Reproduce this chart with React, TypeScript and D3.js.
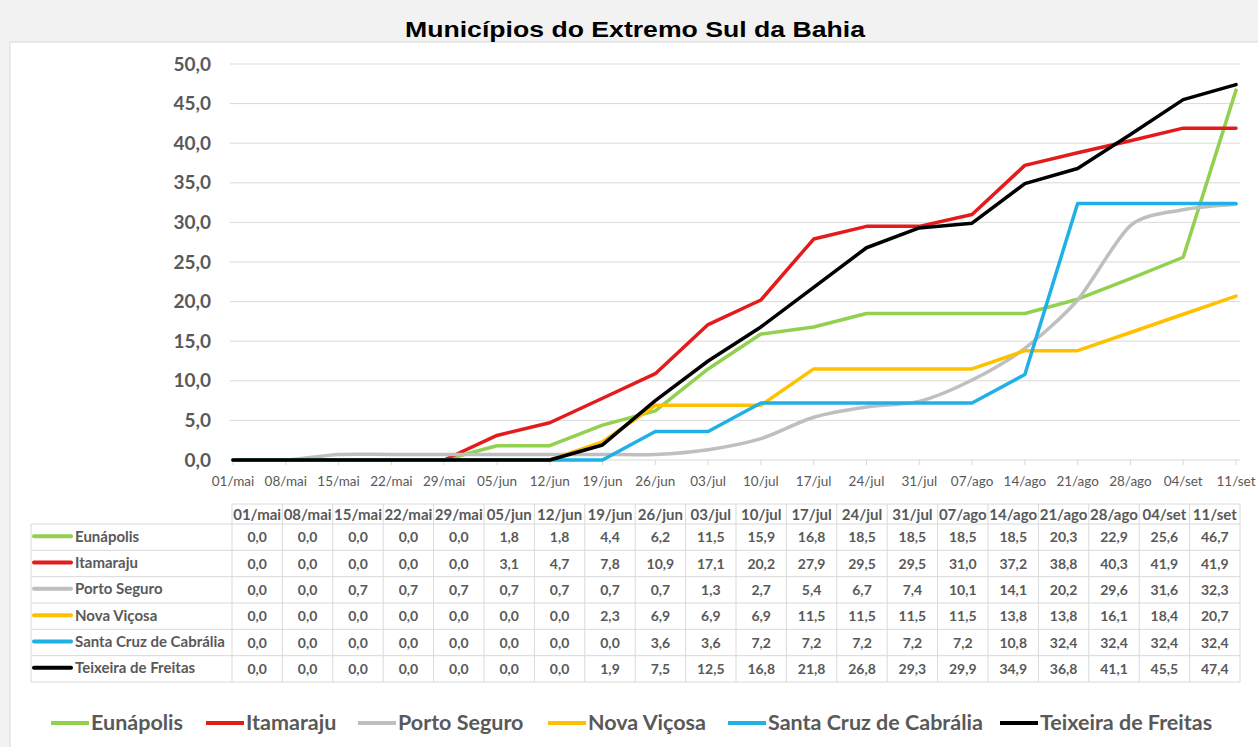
import React from 'react';
import * as d3 from 'd3';

const categories = ['01/mai', '08/mai', '15/mai', '22/mai', '29/mai', '05/jun', '12/jun', '19/jun', '26/jun', '03/jul', '10/jul', '17/jul', '24/jul', '31/jul', '07/ago', '14/ago', '21/ago', '28/ago', '04/set', '11/set'];

const seriesNames = ['Eunápolis', 'Itamaraju', 'Porto Seguro', 'Nova Viçosa', 'Santa Cruz de Cabrália', 'Teixeira de Freitas'];

const eunapolis = [0, 0, 0, 0, 0, 1.8, 1.8, 4.4, 6.2, 11.5, 15.9, 16.8, 18.5, 18.5, 18.5, 18.5, 20.3, 22.9, 25.6, 46.7];
const itamaraju = [0, 0, 0, 0, 0, 3.1, 4.7, 7.8, 10.9, 17.1, 20.2, 27.9, 29.5, 29.5, 31.0, 37.2, 38.8, 40.3, 41.9, 41.9];
const portoSeguro = [0, 0, 0.7, 0.7, 0.7, 0.7, 0.7, 0.7, 0.7, 1.3, 2.7, 5.4, 6.7, 7.4, 10.1, 14.1, 20.2, 29.6, 31.6, 32.3];
const novaVicosa = [0, 0, 0, 0, 0, 0, 0, 2.3, 6.9, 6.9, 6.9, 11.5, 11.5, 11.5, 11.5, 13.8, 13.8, 16.1, 18.4, 20.7];
const santaCruz = [0, 0, 0, 0, 0, 0, 0, 0, 3.6, 3.6, 7.2, 7.2, 7.2, 7.2, 7.2, 10.8, 32.4, 32.4, 32.4, 32.4];
const teixeira = [0, 0, 0, 0, 0, 0, 0, 1.9, 7.5, 12.5, 16.8, 21.8, 26.8, 29.3, 29.9, 34.9, 36.8, 41.1, 45.5, 47.4];

const seriesValues = [eunapolis, itamaraju, portoSeguro, novaVicosa, santaCruz, teixeira];
const seriesColors = ['#92d050', '#e31b1b', '#bfbfbf', '#ffc000', '#1fb0e6', '#000000'];
const smoothed = [false, false, true, false, false, false];

const yTicks = [0, 5, 10, 15, 20, 25, 30, 35, 40, 45, 50];

const legendX = [51, 206, 358, 548, 728, 1000];

const fmt = (v: number) => d3.format('.1f')(v).replace('.', ',');

export default function App() {
  const W = 1258;
  const H = 747;
  const x = d3.scalePoint<string>().domain(categories).range([233, 1236]);
  const y = d3.scaleLinear().domain([0, 50]).range([460, 64]);
  const col = d3.scaleBand<string>().domain(categories).range([232, 1240]);
  const gridColor = '#d9d9d9';
  const textColor = '#595959';
  const calibri = 'Lato, "Open Sans", sans-serif';

  const tableTop = 504;
  const headerBottom = 524;
  const rowH = (682 - 524) / 6;
  const tableLeft = 31;
  const labelRight = 232;
  const tableRight = 1240;

  return (
    <div style={{ position: 'absolute', left: 0, top: 0 }}>
      <svg width={W} height={H} style={{ display: 'block' }}>
        <rect x={0} y={0} width={W} height={H} fill="#f2f2f2" />
        <rect x={10} y={42} width={W - 9} height={H - 41} fill="#ffffff" stroke="#d9d9d9" strokeWidth={1} />
        <text x={635} y={37} textAnchor="middle" fontFamily='"Liberation Sans", Arial, sans-serif' fontWeight="bold" fontSize={22} fill="#000" textLength={460} lengthAdjust="spacingAndGlyphs">
          Municípios do Extremo Sul da Bahia
        </text>

        {/* gridlines */}
        {yTicks.map((t) => (
          <line key={'g' + t} x1={230} x2={1240} y1={y(t)} y2={y(t)} stroke={gridColor} strokeWidth={1} />
        ))}
        {yTicks.map((t) => (
          <text key={'yl' + t} x={211} y={y(t) + 6.5} textAnchor="end" fontFamily={calibri} fontWeight="bold" fontSize={19} fill={textColor}>
            {fmt(t)}
          </text>
        ))}
        {/* x ticks */}
        {categories.map((c) => (
          <line key={'xt' + c} x1={x(c)} x2={x(c)} y1={460} y2={465} stroke={gridColor} strokeWidth={1} />
        ))}
        {categories.map((c) => (
          <text key={'xl' + c} x={x(c)} y={486} textAnchor="middle" fontFamily={calibri} fontSize={13.5} fill={textColor}>
            {c}
          </text>
        ))}

        {/* lines */}
        {seriesValues.map((vals, i) => {
          const gen = d3
            .line<number>()
            .x((_, j) => x(categories[j]) as number)
            .y((v) => y(v))
            .curve(smoothed[i] ? d3.curveCardinal.tension(0.2) : d3.curveLinear);
          return (
            <path key={'s' + i} d={gen(vals) || ''} fill="none" stroke={seriesColors[i]} strokeWidth={3.5} strokeLinejoin="round" strokeLinecap="round" />
          );
        })}

        {/* data table */}
        <g>
          <line x1={labelRight} x2={tableRight} y1={tableTop} y2={tableTop} stroke={gridColor} />
          {d3.range(7).map((r) => (
            <line key={'hr' + r} x1={tableLeft} x2={tableRight} y1={headerBottom + r * rowH} y2={headerBottom + r * rowH} stroke={gridColor} />
          ))}
          <line x1={tableLeft} x2={tableLeft} y1={headerBottom} y2={headerBottom + 6 * rowH} stroke={gridColor} />
          {categories.map((c) => (
            <line key={'vl' + c} x1={col(c)} x2={col(c)} y1={tableTop} y2={headerBottom + 6 * rowH} stroke={gridColor} />
          ))}
          <line x1={tableRight} x2={tableRight} y1={tableTop} y2={headerBottom + 6 * rowH} stroke={gridColor} />
          {categories.map((c) => (
            <text key={'th' + c} x={(col(c) as number) + col.bandwidth() / 2} y={519.5} textAnchor="middle" fontFamily={calibri} fontWeight="bold" fontSize={15} fill={textColor}>
              {c}
            </text>
          ))}
          {seriesNames.map((name, i) => {
            const cy = headerBottom + i * rowH + rowH / 2;
            return (
              <g key={'row' + i}>
                <line x1={34} x2={71} y1={cy - 1} y2={cy - 1} stroke={seriesColors[i]} strokeWidth={4} strokeLinecap="round" />
                <text x={75} y={cy + 4.5} fontFamily={calibri} fontWeight="bold" fontSize={15} fill={textColor}>
                  {name}
                </text>
                {seriesValues[i].map((v, j) => (
                  <text key={'v' + j} x={(col(categories[j]) as number) + col.bandwidth() / 2} y={cy + 5} textAnchor="middle" fontFamily={calibri} fontWeight="bold" fontSize={14} fill={textColor}>
                    {fmt(v)}
                  </text>
                ))}
              </g>
            );
          })}
        </g>

        {/* legend */}
        {seriesNames.map((name, i) => (
          <g key={'lg' + i}>
            <line x1={legendX[i]} x2={legendX[i] + 38} y1={723} y2={723} stroke={seriesColors[i]} strokeWidth={4} />
            <text x={legendX[i] + 40} y={730} fontFamily={calibri} fontWeight="bold" fontSize={21.5} fill={textColor}>
              {name}
            </text>
          </g>
        ))}
      </svg>
    </div>
  );
}
